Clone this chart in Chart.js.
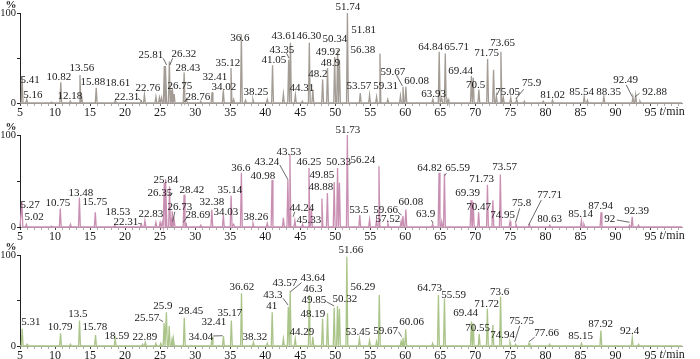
<!DOCTYPE html>
<html>
<head>
<meta charset="utf-8">
<script src="https://cdn.jsdelivr.net/npm/chart.js@4"></script>
<style>
  html, body { margin: 0; padding: 0; background: #fff; }
  #wrap { position: relative; width: 700px; height: 359px; overflow: hidden; }
  .panel { position: absolute; left: 0; width: 700px; }
</style>
</head>
<body>
<div id="wrap">
  <div class="panel" style="top:0;height:120px"><canvas id="c1"></canvas></div>
  <div class="panel" style="top:118px;height:126px"><canvas id="c2"></canvas></div>
  <div class="panel" style="top:238px;height:121px"><canvas id="c3"></canvas></div>
</div>
<script>
// retention time (min) and relative abundance (%) of the peaks, top trace
const times1 = [5.3, 5.95, 9.5, 10.82, 12.18, 13.56, 13.8, 15.88, 18.61, 22.31,
  22.76, 24.4, 24.9, 25.2, 25.6, 25.81, 26.32, 26.6, 26.75, 27.0,
  28.43, 28.76, 30.8, 32.41, 34.02, 35.12, 35.5, 36.6, 37.2, 38.25,
  40.3, 41.05, 42.6, 43.35, 43.61, 44.31, 45.3, 46.3, 46.8, 48.2,
  48.9, 49.92, 50.34, 50.6, 51.74, 53.57, 54.9, 55.9, 56.38, 57.5,
  59.31, 59.67, 60.08, 63.93, 64.84, 65.2, 65.71, 66.1, 69.44, 69.7,
  70.5, 71.75, 72.6, 73.0, 73.65, 74.0, 75.05, 75.9, 77.0, 79.7,
  81.02, 85.54, 86.0, 88.35, 92.49, 92.88, 93.5];
const heights1 = [29, 4, 1, 23, 2, 31, 7, 17, 3, 2,
  9, 7, 6, 6, 41, 41, 46, 14, 17, 10,
  34, 4, 2, 12, 14, 39, 4, 76, 3, 4,
  4, 42, 10, 48, 67, 9, 2, 67, 15, 26,
  39, 51, 59, 48, 100, 11, 9, 7, 55, 4,
  8, 18, 18, 4, 57, 5, 55, 4, 30, 28,
  15, 49, 37, 8, 57, 6, 6, 4, 2, 2,
  3, 7, 3, 7, 7, 9, 2];

// middle trace
const times2 = [5.27, 5.9, 9.5, 10.75, 12.2, 13.48, 15.75, 18.53, 22.31, 22.83,
  24.4, 25.0, 25.3, 25.6, 25.84, 26.35, 26.6, 26.73, 27.0, 28.42,
  28.69, 30.8, 32.38, 34.03, 35.14, 35.5, 36.6, 38.26, 40.3, 40.98,
  42.6, 43.24, 43.53, 44.24, 45.33, 46.25, 46.6, 48.1, 48.88, 49.85,
  50.33, 50.6, 51.73, 53.5, 54.9, 55.9, 56.24, 57.52, 59.4, 59.66,
  60.08, 63.9, 64.82, 65.2, 65.59, 69.39, 69.7, 70.47, 71.73, 72.5,
  73.57, 74.95, 75.8, 77.71, 80.63, 85.14, 85.5, 87.94, 92.0, 92.39,
  93.3];
const heights2 = [27, 3, 1, 20, 3, 32, 16, 2, 3, 7,
  5, 5, 5, 48, 52, 44, 10, 17, 8, 35,
  5, 2, 19, 13, 34, 3, 59, 4, 4, 51,
  10, 51, 79, 7, 3, 64, 20, 31, 37, 49,
  64, 48, 100, 13, 8, 8, 66, 4, 6, 12,
  19, 3, 59, 6, 58, 29, 27, 16, 46, 29,
  57, 6, 3, 3, 2, 7, 3, 16, 2, 11,
  2];

// bottom trace
const times3 = [5.31, 6.0, 10.79, 12.2, 13.5, 15.78, 18.59, 22.5, 22.89, 24.4,
  25.1, 25.57, 25.9, 26.3, 26.7, 26.9, 28.45, 32.41, 34.04, 35.17,
  36.62, 38.32, 40.3, 41.0, 42.6, 43.3, 43.57, 44.29, 46.3, 46.8,
  48.19, 48.9, 49.85, 50.32, 50.6, 51.66, 53.45, 54.9, 55.9, 56.29,
  59.4, 59.67, 60.06, 63.9, 64.73, 65.59, 69.44, 69.7, 70.55, 71.72,
  72.5, 73.6, 74.94, 75.75, 77.66, 80.6, 85.15, 87.92, 92.4, 93.3];
const heights3 = [19, 2, 14, 2, 28, 12, 8, 2, 4, 3,
  3, 25, 37, 22, 7, 8, 31, 10, 11, 28,
  58, 4, 3, 37, 8, 43, 61, 8, 56, 10,
  30, 36, 42, 44, 41, 98, 8, 6, 5, 56,
  5, 9, 18, 3, 56, 52, 27, 25, 13, 41,
  23, 54, 4, 2, 3, 2, 3, 17, 9, 2];

// peak labels as printed
const labels1 = ['5.41', '5.16', '10.82', '12.18', '13.56', '15.88', '18.61', '22.31', '22.76', '25.81',
  '26.32', '28.43', '26.75', '28.76', '32.41', '34.02', '35.12', '36.6', '38.25', '41.05',
  '43.35', '43.61', '46.30', '44.31', '50.34', '49.92', '48.9', '48.2', '51.74', '51.81',
  '53.57', '56.38', '59.31', '59.67', '60.08', '63.93', '64.84', '65.71', '69.44', '70.5',
  '71.75', '73.65', '75.05', '75.9', '81.02', '85.54', '88.35', '92.49', '92.88'];
const labels2 = ['5.27', '5.02', '10.75', '13.48', '15.75', '18.53', '22.31', '22.83', '25.84', '26.35',
  '28.42', '26.73', '28.69', '32.38', '34.03', '35.14', '36.6', '38.26', '40.98', '43.24',
  '43.53', '46.25', '50.33', '49.85', '48.88', '44.24', '45.33', '51.73', '53.5', '56.24',
  '59.66', '57.52', '60.08', '63.9', '64.82', '65.59', '69.39', '70.47', '71.73', '73.57',
  '74.95', '75.8', '77.71', '80.63', '85.14', '87.94', '92', '92.39'];
const labels3 = ['5.31', '10.79', '13.5', '15.78', '18.59', '22.89', '25.57', '25.9', '28.45', '32.41',
  '34.04', '35.17', '36.62', '38.32', '41', '43.3', '43.57', '43.64', '46.3', '49.85',
  '50.32', '48.19', '44.29', '51.66', '53.45', '56.29', '59.67', '60.06', '64.73', '55.59',
  '69.44', '70.55', '71.72', '73.6', '74.94', '75.75', '77.66', '85.15', '87.92', '92.4'];

// where each label's centre sits, in axis units (min, %)
const labelPos1 = [[6.43, 25.6], [6.85, 8.9], [10.56, 28.9], [12.13, 8.1], [13.84, 38.5], [15.41, 23.7], [18.98, 21.9], [20.26, 7.0], [23.26, 16.3], [23.69, 53.3],
  [28.39, 54.4], [28.97, 38.5], [27.82, 18.9], [30.39, 6.3], [32.82, 28.5], [34.1, 18.1], [34.67, 44.8], [36.38, 72.6], [38.67, 11.9], [41.23, 47.8],
  [42.37, 58.9], [42.66, 74.4], [46.23, 74.4], [45.23, 16.3], [49.94, 70.8], [49.0, 57.0], [49.3, 44.8], [47.51, 32.2], [51.79, 106.3], [54.07, 81.1],
  [53.36, 18.9], [53.93, 58.9], [57.21, 18.9], [58.21, 34.8], [61.63, 24.4], [64.06, 9.7], [63.63, 62.6], [67.34, 62.6], [67.91, 35.9], [70.05, 20],
  [71.62, 55.2], [73.9, 67], [74.61, 12.6], [78.04, 21.9], [81.03, 8.9], [85.17, 12.6], [89.02, 12.6], [91.45, 25.6], [95.58, 12.6]];
const labelPos2 = [[6.43, 23.9], [7.0, 11.2], [10.42, 25.7], [13.7, 36.6], [15.7, 26.8], [18.98, 16.6], [20.12, 5.1], [23.69, 14.1], [25.83, 51.1], [24.97, 36.6],
  [29.54, 40.2], [27.82, 22.1], [30.39, 13], [32.39, 26.8], [34.39, 16.6], [34.96, 40.2], [36.53, 63.8], [38.67, 10.5], [39.66, 55.4], [40.23, 71],
  [43.37, 81.8], [46.23, 70.3], [50.5, 70.3], [48.08, 56.5], [47.94, 43.8], [45.23, 20.3], [46.23, 7.6], [51.79, 105.4], [53.36, 18.5], [53.93, 72.8],
  [57.21, 18.5], [57.5, 8.7], [60.78, 26.8], [62.92, 13.8], [63.49, 63.8], [67.48, 63.8], [68.9, 37.3], [70.48, 21.4], [70.91, 51.8], [74.19, 65.5],
  [73.9, 13], [76.61, 26.4], [80.61, 34.8], [80.61, 8.4], [85.03, 13.8], [87.88, 22.8], [89.17, 8.7], [93.02, 17.7]];
const labelPos3 = [[6.57, 26.7], [10.71, 20.5], [13.27, 35.2], [15.7, 21.2], [18.84, 11.3], [22.83, 10.2], [23.12, 31.1], [25.4, 44], [29.39, 38.8], [32.68, 26],
  [30.82, 9.6], [34.96, 35.9], [36.67, 65.2], [38.52, 10.2], [40.95, 44], [41.09, 56], [42.8, 69.6], [46.8, 74.4], [46.8, 62.3], [46.94, 50.5],
  [51.36, 51.3], [46.8, 34.8], [45.23, 15.7], [52.22, 105.5], [53.22, 15.7], [53.93, 64.5], [57.21, 16.5], [60.92, 26.7], [63.49, 63.4], [66.91, 56],
  [68.62, 35.9], [70.33, 19.5], [71.62, 46.2], [73.47, 59.7], [73.9, 12.1], [76.61, 27.5], [80.18, 13.9], [85.03, 11], [87.88, 24.2], [92.02, 16.5]];

// leader lines label -> peak [t1, %1, t2, %2]
const leaders1 = [[21.88, 5.2, 22.36, 2.2], [25.44, 49.7, 25.93, 42.2], [26.78, 49.7, 26.4, 42.2], [28.78, 4.1, 28.44, 1.4],
  [43.05, 55.2, 43.42, 49.7], [58.74, 31.1, 59.59, 18.9], [76.9, 15.2, 75.76, 4.4], [91.55, 20, 92.4, 7], [93.44, 10.8, 92.83, 7]];
const leaders2 = [[21.88, 4, 22.36, 3.3], [26.78, 36.6, 26.16, 34.8], [27.11, 16.6, 26.78, 5.8], [28.78, 10.1, 28.3, 5.1],
  [42.09, 67.4, 43.27, 51.1], [44.23, 16.6, 43.99, 11.2], [58.97, 16, 59.45, 13], [63.73, 7.6, 63.96, 4],
  [65.87, 58.4, 65.63, 55.8], [76.33, 20.3, 75.76, 5.1], [79.42, 29.3, 77.61, 2.2], [90.21, 7.6, 92.02, 5.1]];
const leaders3 = [[24.87, 29.3, 25.44, 26.7], [32.58, 11, 33.92, 11.3], [42.56, 52.4, 43.27, 45], [45.19, 69.6, 43.62, 59.7],
  [48.75, 48.7, 49.84, 44], [59.02, 15.7, 59.49, 10.2], [76.33, 22, 75.61, 4.7], [78.47, 9.6, 77.65, 4.7]];

const HALF_WIDTH = 0.13;
const FONT = '"Liberation Serif", "Times New Roman", serif';

// each peak as baseline - apex - baseline
function buildTrace(times, heights) {
  const pts = [{x: 5, y: 0}];
  for (let i = 0; i < times.length; i++) {
    const t = times[i];
    const left = i > 0 ? Math.max(t - HALF_WIDTH, (times[i - 1] + t) / 2) : t - HALF_WIDTH;
    const right = i < times.length - 1 ? Math.min(t + HALF_WIDTH, (t + times[i + 1]) / 2) : t + HALF_WIDTH;
    pts.push({x: left, y: 0}, {x: t, y: heights[i]}, {x: right, y: 0});
  }
  pts.push({x: 99.5, y: 0});
  return pts;
}

function annotator(labels, pos, leaders) {
  return {
    id: 'annotator',
    afterDraw(chart) {
      const {ctx, chartArea, scales: {x, y}} = chart;
      ctx.save();
      ctx.fillStyle = '#1a1a1a';
      ctx.font = '11px ' + FONT;
      ctx.textAlign = 'center';
      ctx.textBaseline = 'middle';
      labels.forEach((txt, i) => {
        ctx.fillText(txt, x.getPixelForValue(pos[i][0]), y.getPixelForValue(pos[i][1]));
      });
      ctx.strokeStyle = '#444';
      ctx.lineWidth = 0.8;
      leaders.forEach(([t1, h1, t2, h2]) => {
        ctx.beginPath();
        ctx.moveTo(x.getPixelForValue(t1), y.getPixelForValue(h1));
        ctx.lineTo(x.getPixelForValue(t2), y.getPixelForValue(h2));
        ctx.stroke();
      });
      ctx.font = 'bold 11px ' + FONT;
      ctx.fillText('%', chartArea.left - 9, chartArea.top - 8);
      // axis title
      const ty = chartArea.bottom + 9;
      let px = x.getPixelForValue(95) + 9;
      ctx.textAlign = 'left';
      ctx.font = 'italic 12px ' + FONT;
      ctx.fillText('t', px, ty);
      px += ctx.measureText('t').width;
      ctx.font = '12px ' + FONT;
      ctx.fillText('/min', px, ty);
      ctx.restore();
    }
  };
}

function makePanel(id, times, heights, color, labels, pos, leaders, padTop, axisH) {
  return new Chart(document.getElementById(id), {
    type: 'line',
    data: {
      datasets: [{
        data: buildTrace(times, heights),
        borderColor: color,
        borderWidth: 1.3,
        pointRadius: 0,
        tension: 0,
        fill: false,
        clip: false
      }]
    },
    options: {
      responsive: true,
      maintainAspectRatio: false,
      animation: false,
      devicePixelRatio: 1,
      layout: { padding: { top: padTop, right: 18, left: 0, bottom: 0 } },
      plugins: { legend: { display: false }, tooltip: { enabled: false } },
      scales: {
        x: {
          type: 'linear',
          min: 5,
          max: 99.5,
          afterFit: s => { s.height = axisH; },
          border: { color: '#9a9a9a', width: 1 },
          grid: {
            drawOnChartArea: false,
            tickLength: 3,
            color: c => (c.tick && c.tick.value % 5 === 0) ? '#444' : '#aaa'
          },
          ticks: {
            stepSize: 1,
            autoSkip: false,
            maxRotation: 0,
            includeBounds: false,
            padding: 0,
            color: '#1a1a1a',
            font: { family: FONT, size: 12 },
            callback: v => (v % 5 === 0 && v <= 95) ? v : ''
          }
        },
        y: {
          min: 0,
          max: 100,
          afterFit: s => { s.width = 20; },
          border: { color: '#222', width: 1 },
          grid: { drawOnChartArea: false, tickLength: 3, color: '#222' },
          ticks: {
            stepSize: 50,
            padding: 1,
            color: '#1a1a1a',
            font: { family: FONT, size: 10.5 },
            callback: v => v === 50 ? '' : v
          }
        }
      }
    },
    plugins: [annotator(labels, pos, leaders)]
  });
}

makePanel('c1', times1, heights1, '#a39c95', labels1, labelPos1, leaders1, 13, 17);
makePanel('c2', times2, heights2, '#c98fb2', labels2, labelPos2, leaders2, 17, 17);
makePanel('c3', times3, heights3, '#abc489', labels3, labelPos3, leaders3, 17, 13);
</script>
</body>
</html>
